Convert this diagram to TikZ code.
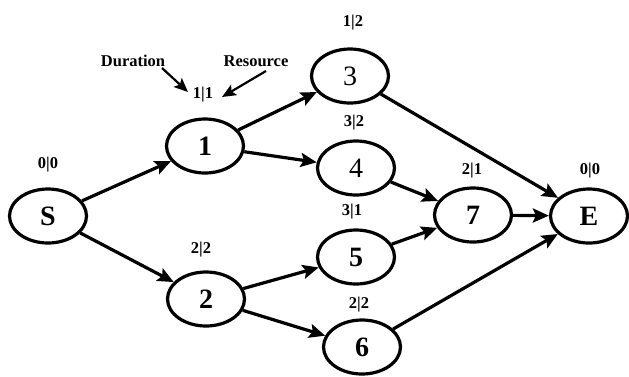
\documentclass[tikz,border=0pt]{standalone}
\usepackage{fontspec}
\setmainfont{Liberation Serif}
\usetikzlibrary{shapes.geometric,arrows.meta}
\begin{document}
\begin{tikzpicture}[x=1pt,y=-1pt,
  ev/.style={ellipse,draw,line width=3.2pt,minimum width=77pt,minimum height=54pt,inner sep=0pt,font=\fontsize{28}{28}\selectfont\bfseries},
  evr/.style={ev,font=\fontsize{28}{28}\selectfont},
  lab/.style={inner sep=0pt,font=\fontsize{16.5}{16.5}\selectfont\bfseries},
  arr/.style={line width=3.2pt,-{Stealth[length=16pt,width=14pt,inset=3pt]}},
  thinarr/.style={line width=2.2pt,-{Stealth[length=14pt,width=12pt,inset=3pt]}}]
\useasboundingbox (0,0) rectangle (629,376);
\node[ev] (S) at (48,216) {S};
\node[ev] (n1) at (205,146) {1};
\node[ev] (n2) at (206,299) {2};
\node[evr] (n3) at (350,76) {3};
\node[evr] (n4) at (356,168) {4};
\node[ev] (n5) at (356,257) {5};
\node[ev] (n6) at (362,347) {6};
\node[ev] (n7) at (473,215) {7};
\node[ev] (E) at (589,216) {E};
\node[lab] (lS) at (48,165) {0|0};
\node[lab] (l1) at (203,95) {1|1};
\node[lab] (l2) at (201,250) {2|2};
\node[lab] (l3) at (353,23) {1|2};
\node[lab] (l4) at (354,123) {3|2};
\node[lab] (l5) at (352,212) {3|1};
\node[lab] (l6) at (359,305) {2|2};
\node[lab] (l7) at (472,171) {2|1};
\node[lab] (lE) at (590,171) {0|0};
\node[lab] (dur) at (133,61) {Duration};
\node[lab] (res) at (256,61) {Resource};
\coordinate (durA) at (162,68);
\coordinate (durB) at (188,92);
\coordinate (resA) at (266,71);
\coordinate (resB) at (222,97);
\draw[thinarr] (durA) -- (durB);
\draw[thinarr] (resA) -- (resB);
\draw[arr] (S) -- (n1);
\draw[arr] (S) -- (n2);
\draw[arr] (n1) -- (n3);
\draw[arr] (n1) -- (n4);
\draw[arr] (n2) -- (n5);
\draw[arr] (n2) -- (n6);
\draw[arr] (n3) -- (E);
\draw[arr] (n4) -- (n7);
\draw[arr] (n5) -- (n7);
\draw[arr] (n7) -- (E);
\draw[arr] (n6) -- (E);
\end{tikzpicture}
\end{document}
